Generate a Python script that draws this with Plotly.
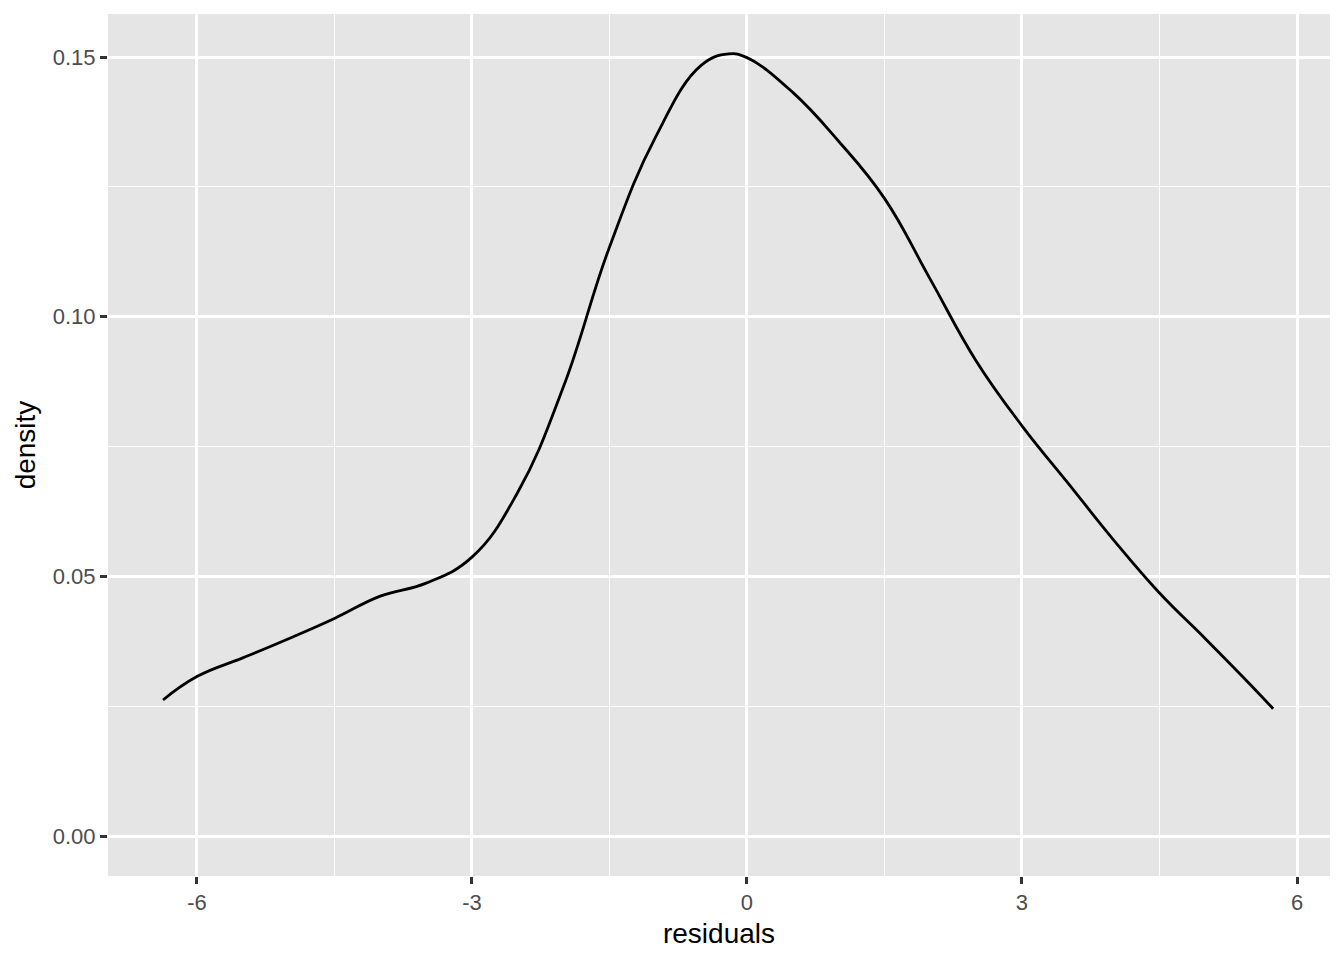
import plotly.graph_objects as go

residuals = [-6.37, -6.0, -5.5, -5.0, -4.5, -4.0, -3.5, -3.0, -2.5, -2.0, -1.5, -1.0,
             -0.5, -0.2, 0.0, 0.5, 1.0, 1.5, 2.0, 2.5, 3.0, 3.5, 4.0, 4.5, 5.0, 5.5, 5.74]
density = [0.0262, 0.0307, 0.0343, 0.0380, 0.0419, 0.0462, 0.0487, 0.0537, 0.0662, 0.0866,
           0.1134, 0.1345, 0.1484, 0.1506, 0.1499, 0.1432, 0.1338, 0.1228, 0.1072, 0.0915,
           0.0790, 0.0680, 0.0570, 0.0468, 0.0380, 0.0290, 0.0245]

x_ticks = [-6, -3, 0, 3, 6]
y_ticks = [0.0, 0.05, 0.10, 0.15]
y_tick_labels = ["0.00", "0.05", "0.10", "0.15"]

fig = go.Figure()
fig.add_trace(go.Scatter(x=residuals, y=density, mode="lines",
                         line=dict(color="black", width=2.8, shape="spline", smoothing=1.2),
                         showlegend=False, hoverinfo="skip"))

font_family = "Liberation Sans, Arial, Helvetica, sans-serif"
fig.update_layout(
    width=1336, height=952,
    margin=dict(l=100, r=14, t=6, b=84),
    paper_bgcolor="white", plot_bgcolor="#E5E5E5",
    font=dict(family=font_family, color="black"),
    showlegend=False,
)
fig.update_xaxes(
    range=[-6.97, 6.36], tickvals=x_ticks, ticktext=[str(v) for v in x_ticks],
    showgrid=True, gridcolor="white", gridwidth=2.8,
    minor=dict(tickvals=[-4.5, -1.5, 1.5, 4.5], showgrid=True, gridcolor="white", gridwidth=1.4, ticklen=0),
    zeroline=False, showline=False,
    ticks="outside", ticklen=7, tickwidth=2.8, tickcolor="#333333",
    tickfont=dict(size=22, color="#4D4D4D", family=font_family),
    title=dict(text="residuals", font=dict(size=28, color="black", family=font_family), standoff=8),
)
fig.update_yaxes(
    range=[-0.0077, 0.1583], tickvals=y_ticks, ticktext=y_tick_labels,
    showgrid=True, gridcolor="white", gridwidth=2.8,
    minor=dict(tickvals=[0.025, 0.075, 0.125], showgrid=True, gridcolor="white", gridwidth=1.4, ticklen=0),
    zeroline=False, showline=False,
    ticks="outside", ticklen=7, tickwidth=2.8, tickcolor="#333333",
    tickfont=dict(size=22, color="#4D4D4D", family=font_family),
    title=dict(text="density", font=dict(size=28, color="black", family=font_family), standoff=8),
)

fig.write_html("out.html")
